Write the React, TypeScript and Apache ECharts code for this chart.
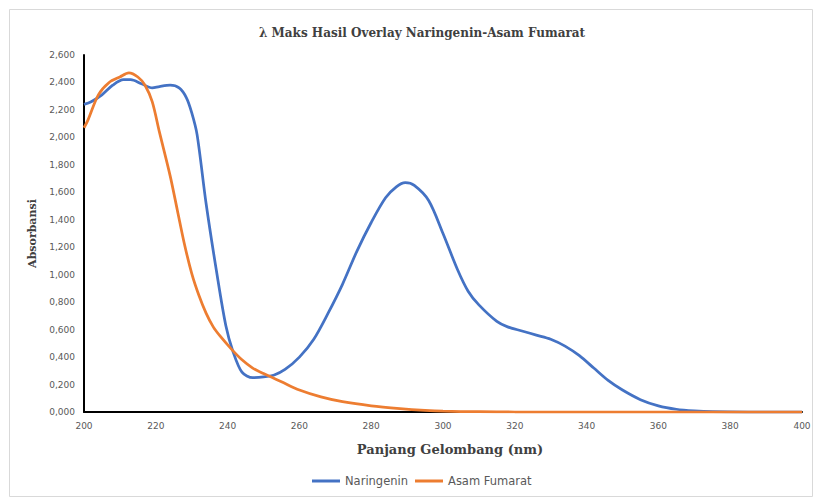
import React, { useEffect, useRef } from "react";
import * as echarts from "echarts";

const chartTitle = "λ Maks Hasil Overlay Naringenin-Asam Fumarat";
const xAxisTitle = "Panjang Gelombang (nm)";
const yAxisTitle = "Absorbansi";
const seriesNames = ["Naringenin", "Asam Fumarat"];

const naringeninWl = [
  200, 202, 205, 208, 211, 213, 216, 219, 221, 224, 226.5, 228.5, 230, 231.5, 234, 237, 239.5,
  241.5, 244, 247, 250, 253, 256, 260, 264, 268, 272, 276, 280, 284, 287, 289.5, 292, 296,
  300, 304, 307, 310, 315, 318, 322, 326, 330, 334, 338, 342, 346, 350, 355, 360, 365, 370,
  375, 385, 400,
];
const naringeninAbs = [
  2.24, 2.26, 2.31, 2.38, 2.42, 2.42, 2.39, 2.36, 2.37, 2.38, 2.36, 2.29, 2.18, 2.02,
  1.52, 1.01, 0.63, 0.44, 0.29, 0.25, 0.255, 0.27, 0.31, 0.4, 0.53, 0.72, 0.93, 1.17, 1.38,
  1.56, 1.64, 1.67, 1.65, 1.54, 1.3, 1.04, 0.88, 0.78, 0.66, 0.62, 0.59, 0.56, 0.53, 0.48,
  0.41, 0.32, 0.23, 0.16, 0.09, 0.045, 0.02, 0.008, 0.002, 0, 0,
];

const fumaratWl = [
  200, 201, 204, 207, 210, 212.5, 215, 217, 219, 221, 224, 226, 228, 230, 232, 234, 236,
  238, 241, 244, 247, 250, 255, 260, 266, 272, 280, 288, 295, 300, 310, 320, 400,
];
const fumaratAbs = [
  2.07, 2.12, 2.31, 2.4, 2.44, 2.47, 2.44, 2.38, 2.26, 2.04, 1.72, 1.47, 1.22, 1.01,
  0.85, 0.72, 0.62, 0.55, 0.46, 0.38, 0.32, 0.28, 0.22, 0.16, 0.11, 0.075, 0.045, 0.025,
  0.012, 0.006, 0.002, 0, 0,
];

const xMin = 200;
const xMax = 400;
const xStep = 20;
const yMin = 0;
const yMax = 2.6;
const yStep = 0.2;

const colors = ["#4472C4", "#ED7D31"];

export default function App() {
  const ref = useRef<HTMLDivElement>(null);
  useEffect(() => {
    if (!ref.current) return;
    const chart = echarts.init(ref.current, null, { renderer: "svg" });
    const pairs = (xs: number[], ys: number[]) => xs.map((x, i) => [x, ys[i]]);
    chart.setOption({
      animation: false,
      backgroundColor: "#ffffff",
      title: {
        text: chartTitle,
        left: 417,
        top: 22,
        textAlign: "center",
        textStyle: {
          fontFamily: "DejaVu Serif",
          fontWeight: "bold",
          fontSize: 12,
          color: "#404040",
        },
      },
      legend: {
        top: 470,
        left: 307,
        itemWidth: 28,
        itemHeight: 3,
        itemGap: 7,
        icon: "rect",
        textStyle: { fontFamily: "DejaVu Sans", fontSize: 11.5, color: "#595959" },
        data: seriesNames,
      },
      grid: { left: 84, right: 13, top: 55, bottom: 88, containLabel: false },
      xAxis: {
        type: "value",
        min: xMin,
        max: xMax,
        interval: xStep,
        name: xAxisTitle,
        nameLocation: "middle",
        nameGap: 31,
        nameTextStyle: {
          fontFamily: "DejaVu Serif",
          fontWeight: "bold",
          fontSize: 13,
          color: "#404040",
          padding: [0, 0, 0, 14],
        },
        axisLine: { show: true, onZero: false, lineStyle: { color: "#000000", width: 2 } },
        axisTick: { show: false },
        splitLine: { show: false },
        axisLabel: {
          fontFamily: "DejaVu Sans",
          fontSize: 9,
          color: "#595959",
          margin: 9,
        },
      },
      yAxis: {
        type: "value",
        min: yMin,
        max: yMax,
        interval: yStep,
        name: yAxisTitle,
        nameLocation: "middle",
        nameRotate: 90,
        nameGap: 46,
        nameTextStyle: {
          fontFamily: "DejaVu Serif",
          fontWeight: "bold",
          fontSize: 11,
          color: "#404040",
        },
        axisLine: { show: true, lineStyle: { color: "#000000", width: 2 } },
        axisTick: { show: false },
        splitLine: { show: false },
        axisLabel: {
          fontFamily: "DejaVu Sans",
          fontSize: 9,
          color: "#595959",
          margin: 9,
          formatter: (v: number) => v.toFixed(3).replace(".", ","),
        },
      },
      graphic: [
        {
          type: "rect",
          shape: { x: 9.5, y: 9.5, width: 803, height: 487 },
          style: { fill: "none", stroke: "#d9d9d9", lineWidth: 1 },
          silent: true,
          z: -1,
        },
      ],
      series: [
        {
          name: seriesNames[0],
          type: "line",
          data: pairs(naringeninWl, naringeninAbs),
          smooth: 0.3,
          showSymbol: false,
          lineStyle: { color: colors[0], width: 2.75 },
          itemStyle: { color: colors[0] },
          z: 2,
        },
        {
          name: seriesNames[1],
          type: "line",
          data: pairs(fumaratWl, fumaratAbs),
          smooth: 0.3,
          showSymbol: false,
          lineStyle: { color: colors[1], width: 2.75 },
          itemStyle: { color: colors[1] },
          z: 3,
        },
      ],
    });
    return () => chart.dispose();
  }, []);
  return (
    <div
      ref={ref}
      style={{ position: "fixed", left: 0, top: 0, width: 815, height: 500 }}
    />
  );
}
